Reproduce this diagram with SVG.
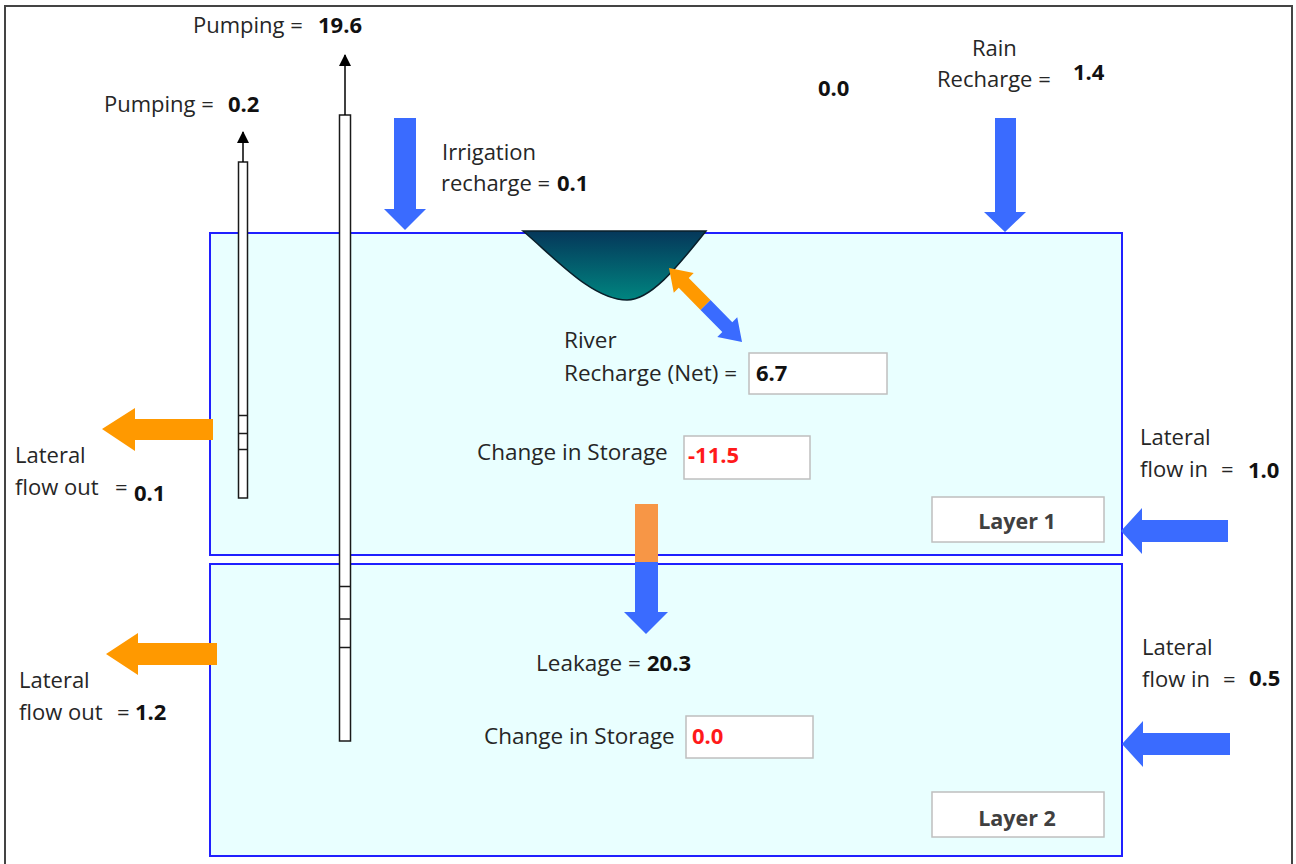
<svg xmlns="http://www.w3.org/2000/svg" width="1296" height="864" viewBox="0 0 1296 864">
  <defs>
    <style>
      .lbl { font-family: "Open Sans", "Liberation Sans", sans-serif; font-size: 22px; fill: #262626; }
      .mid { font-size: 22.5px; }
      .val { font-family: "Open Sans", "Liberation Sans", sans-serif; font-size: 22px; font-weight: bold; fill: #111; }
      .neg { fill: #ff1a1a; }
      .layer { fill: #e9ffff; stroke: #2020ff; stroke-width: 2; }
      .box { fill: #ffffff; stroke: #bfbfbf; stroke-width: 1.5; }
      .tag { font-family: "Open Sans", "Liberation Sans", sans-serif; font-size: 21.5px; font-weight: bold; fill: #404040; text-anchor: middle; }
      .well { fill: #ffffff; stroke: #1a1a1a; stroke-width: 1.5; }
      .screen { stroke: #1a1a1a; stroke-width: 1.5; }
      .blue { fill: #3a6bff; }
      .orange { fill: #ff9900; }
      .leak { fill: #f79646; }
      .pump { stroke: #000; stroke-width: 1.5; fill: none; marker-end: url(#tip); }
    </style>
    <marker id="tip" viewBox="0 0 12 12" refX="11" refY="6" markerWidth="12" markerHeight="12" markerUnits="userSpaceOnUse" orient="auto">
      <path d="M0,0 L12,6 L0,12 Z" fill="#000"/>
    </marker>
    <linearGradient id="riverFill" x1="0" y1="0" x2="0" y2="1">
      <stop offset="0" stop-color="#05375a"/>
      <stop offset="1" stop-color="#008580"/>
    </linearGradient>
  </defs>

  <!-- outer frame -->
  <rect x="5" y="6" width="1287" height="870" fill="#ffffff" stroke="#444" stroke-width="2"/>

  <!-- aquifer layers -->
  <g id="layer1">
    <rect class="layer" x="210" y="233" width="912" height="322"/>
    <rect class="box" x="932" y="497" width="172" height="45"/>
    <text class="tag" x="1017" y="529">Layer 1</text>
  </g>
  <g id="layer2">
    <rect class="layer" x="210" y="564" width="912" height="292"/>
    <rect class="box" x="932" y="792" width="172" height="45"/>
    <text class="tag" x="1017" y="826">Layer 2</text>
  </g>

  <!-- river channel -->
  <g id="river">
    <path d="M523,231 C555,258 592,300 627,300 C650,300 675,270 706,231 Z" fill="url(#riverFill)" stroke="#0a1f2a" stroke-width="1.5"/>
  </g>

  <!-- wells -->
  <g id="well-shallow">
    <rect class="well" x="238.5" y="162" width="9" height="336"/>
    <line class="screen" x1="238.5" y1="415.5" x2="247.5" y2="415.5"/>
    <line class="screen" x1="238.5" y1="433.5" x2="247.5" y2="433.5"/>
    <line class="screen" x1="238.5" y1="449.5" x2="247.5" y2="449.5"/>
  </g>
  <g id="well-deep">
    <rect class="well" x="339.5" y="115" width="11" height="626"/>
    <line class="screen" x1="339.5" y1="586.5" x2="350.5" y2="586.5"/>
    <line class="screen" x1="339.5" y1="619" x2="350.5" y2="619"/>
    <line class="screen" x1="339.5" y1="647.5" x2="350.5" y2="647.5"/>
  </g>

  <!-- flow arrows -->
  <g id="connectors">
    <line class="pump" x1="243" y1="162" x2="243" y2="132"/>
    <line class="pump" x1="345" y1="115" x2="345" y2="55"/>
    <!-- irrigation recharge -->
    <polygon class="blue" points="394,118 416,118 416,209 426,209 405,230 384,209 394,209"/>
    <!-- rain recharge -->
    <polygon class="blue" points="995,118 1016,118 1016,212 1026,212 1005,232 984,212 995,212"/>
    <!-- river exchange (two-way) -->
    <g transform="translate(669,268) rotate(45.4)">
      <polygon class="orange" points="0,0 21,-14 21,-7 52,-7 52,7 21,7 21,14"/>
      <polygon class="blue" points="52,-7 83,-7 83,-14 104,0 83,14 83,7 52,7"/>
    </g>
    <!-- leakage between layers -->
    <rect class="leak" x="635" y="504" width="23" height="58"/>
    <polygon class="blue" points="635,562 658,562 658,612 668,612 646,634 624,612 635,612"/>
    <!-- lateral outflow -->
    <polygon class="orange" points="213,419 213,440 135,440 135,451 102,429 135,408 135,419"/>
    <polygon class="orange" points="217,643 217,665 138,665 138,675 106,654 138,633 138,643"/>
    <!-- lateral inflow -->
    <polygon class="blue" points="1228,520 1228,542 1142,542 1142,554 1121,531 1142,508 1142,520"/>
    <polygon class="blue" points="1230,733 1230,755 1143,755 1143,767 1122,744 1143,721 1143,733"/>
  </g>

  <!-- labels -->
  <g id="labels">
    <text class="lbl" x="193" y="33">Pumping =</text>
    <text class="val" x="318" y="33">19.6</text>
    <text class="lbl" x="104" y="112">Pumping =</text>
    <text class="val" x="228" y="112">0.2</text>

    <text class="lbl" x="442" y="160">Irrigation</text>
    <text class="lbl" x="441" y="191">recharge =</text>
    <text class="val" x="557" y="191">0.1</text>

    <text class="val" x="818" y="96">0.0</text>

    <text class="lbl" x="972" y="56">Rain</text>
    <text class="lbl" x="937" y="87">Recharge =</text>
    <text class="val" x="1073" y="80">1.4</text>

    <text class="lbl mid" x="564" y="348">River</text>
    <text class="lbl mid" x="564" y="381">Recharge (Net) =</text>
    <rect class="box" x="749" y="353" width="138" height="41"/>
    <text class="val" x="756" y="381">6.7</text>

    <text class="lbl mid" x="477" y="460">Change in Storage</text>
    <rect class="box" x="684" y="436" width="126" height="43"/>
    <text class="val neg" x="688" y="463">-11.5</text>

    <text class="lbl mid" x="536" y="671">Leakage =</text>
    <text class="val" x="647" y="671">20.3</text>

    <text class="lbl mid" x="484" y="744">Change in Storage</text>
    <rect class="box" x="686" y="716" width="127" height="42"/>
    <text class="val neg" x="692" y="744">0.0</text>

    <text class="lbl" x="1140" y="445">Lateral</text>
    <text class="lbl" x="1140" y="477">flow in</text>
    <text class="lbl" x="1221" y="477">=</text>
    <text class="val" x="1248" y="478">1.0</text>

    <text class="lbl" x="1142" y="655">Lateral</text>
    <text class="lbl" x="1142" y="687">flow in</text>
    <text class="lbl" x="1223" y="687">=</text>
    <text class="val" x="1249" y="686">0.5</text>

    <text class="lbl" x="15" y="463">Lateral</text>
    <text class="lbl" x="15" y="495">flow out</text>
    <text class="lbl" x="115" y="495">=</text>
    <text class="val" x="134" y="501">0.1</text>

    <text class="lbl" x="19" y="688">Lateral</text>
    <text class="lbl" x="19" y="720">flow out</text>
    <text class="lbl" x="117" y="720">=</text>
    <text class="val" x="135" y="720">1.2</text>
  </g>
</svg>
